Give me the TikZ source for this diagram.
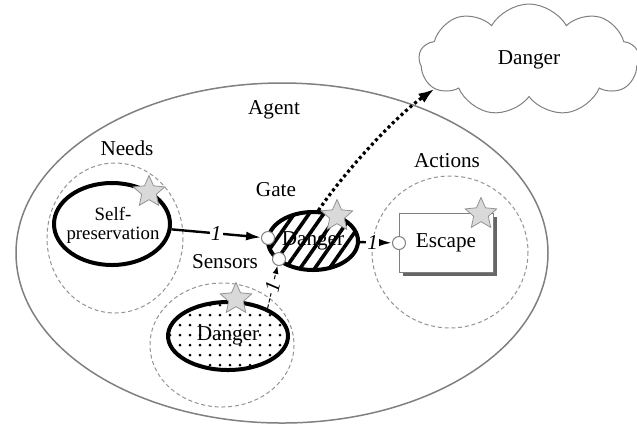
\documentclass[tikz,border=0pt]{standalone}
\usepackage{fontspec}
\setmainfont{Liberation Serif}
\usetikzlibrary{shapes.geometric,shapes.symbols,patterns.meta,shadows,arrows.meta}

\tikzset{
  region/.style={draw=gray!85, line width=0.5pt, dash pattern=on 2pt off 1.4pt},
  unit/.style={ellipse, draw=black, line width=2pt, inner sep=0pt},
  port/.style={circle, draw=gray, fill=white, line width=0.5pt, minimum size=6.5pt, inner sep=0pt},
  starmark/.style={star, star points=5, star point ratio=2.15, minimum size=16.5pt, inner sep=0pt,
                   draw=gray!85, fill=gray!30, line width=0.4pt},
  lbl/.style={font=\itshape, fill=white, inner sep=0.5pt},
  link/.style={line width=1.2pt, -{Latex[length=7.5pt,width=4.5pt]}},
  sense/.style={line width=0.5pt, dash pattern=on 2pt off 1pt, -{Latex[length=4pt,width=3pt]}},
  signal/.style={line width=1.6pt, dash pattern=on 1.5pt off 1.5pt, -{Latex[length=8pt,width=5.5pt]}},
}

\begin{document}
\fontsize{10.6}{12.5}\selectfont
\begin{tikzpicture}[x=0.5pt, y=-0.5pt]
% \draw [help lines, step=20] (0,0) grid (637,425);
\useasboundingbox (0,0) rectangle (637,425);

% agent and its three regions
\draw [draw=gray, line width=0.75pt] (282,253) ellipse (266 and 170);
\draw [region] (115,238) ellipse (68 and 75);
\draw [region] (222,345) ellipse (72 and 62);
\draw [region] (450,252) ellipse (78 and 76);

\node (agent)   at (274,110) {Agent};
\node (needs)   at (127,148) {Needs};
\node (gatelbl) at (276,190) {Gate};
\node (sensors) at (225,262) {Sensors};
\node (actions) at (447,161) {Actions};

% the world outside
\node [cloud, cloud puffs=9, cloud puff arc=120, aspect=2, draw=gray, line width=0.5pt,
       minimum width=110pt, minimum height=56pt] (danger) at (529,60) {Danger};

% units
\node [unit, minimum width=58pt, minimum height=41pt] (self) at (112,224) {};
\node [align=center, font=\fontsize{9.4}{9.6}\selectfont] (selftxt) at (113,225) {Self-\\preservation};
\node [unit, minimum width=45pt, minimum height=29pt,
       pattern={Lines[angle=55,distance=6pt,line width=1.8pt]}] (gate) at (313,241) {Danger};
\node [unit, minimum width=60pt, minimum height=34pt,
       pattern={Dots[distance=5pt,radius=0.75pt]}] (sens) at (228,336) {Danger};
\node [draw=gray, line width=0.5pt, fill=white, minimum width=47pt, minimum height=29.5pt,
       drop shadow={shadow xshift=2pt, shadow yshift=-2pt, fill=gray!80!black, opacity=1}]
      (escape) at (446,242.5) {Escape};

% ports
\node [port] (gin)   at (268,238) {};
\node [port] (gbot)  at (279,259) {};
\node [port] (eport) at (399,243) {};

% connections
\draw [link] (self) -- node [lbl] {1} (gin);
\draw [link] (gate) -- node [lbl, pos=0.4] {1} (eport);
\draw [sense] (sens.35) -- node [lbl, sloped] {1} (gbot);
\draw [signal] (gate.80) .. controls (346,170) and (396,116) .. (danger.197);

% stars
\node [starmark] (s1) at (149,192) {};
\node [starmark] (s2) at (337,216) {};
\node [starmark] (s3) at (236,299) {};
\node [starmark] (s4) at (481,214) {};
\end{tikzpicture}
\end{document}
